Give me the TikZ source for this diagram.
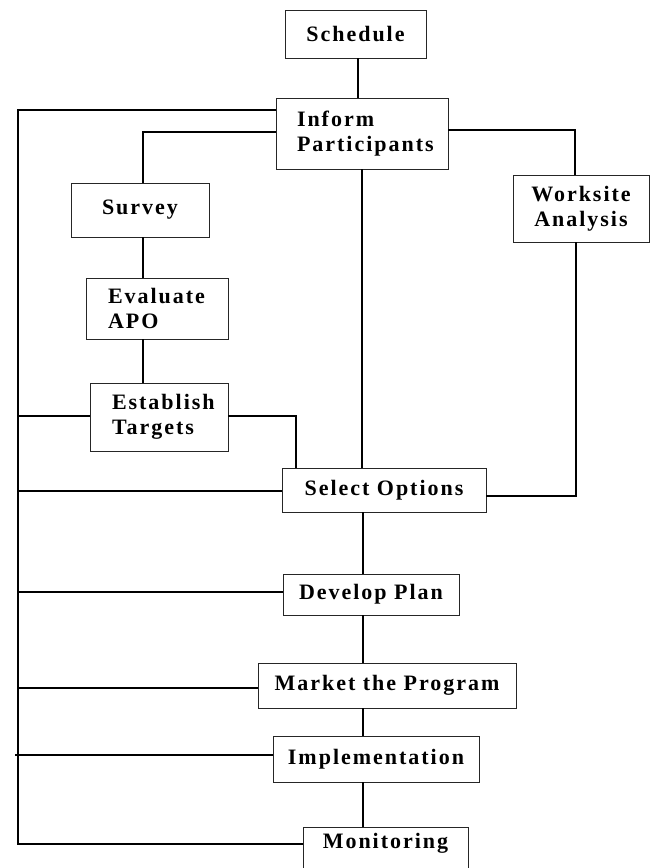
\documentclass[tikz,border=0pt]{standalone}
\usepackage{fontspec}
\setmainfont[LetterSpace=9]{Liberation Serif}
\usetikzlibrary{calc}
\begin{document}
\begin{tikzpicture}[x=1pt,y=-1pt,
  box/.style={draw=black!85,line width=0.8pt,inner sep=0pt,
    font=\fontsize{22}{25}\selectfont\bfseries},
  lbox/.style={box,align=left},
  cbox/.style={box,align=center},
  conn/.style={line width=1.5pt,black}]
\useasboundingbox (0,0) rectangle (655,868);
% nodes
\node[cbox,minimum width=141pt,minimum height=48pt] (sched) at (355.5,34) {Schedule};
\node[lbox,minimum width=172pt,minimum height=71pt,text width=130pt] (inform) at (362,133.5) {Inform\\Participants};
\node[cbox,minimum width=138pt,minimum height=54pt] (survey) at (140,210) {Survey};
\node[cbox,minimum width=136pt,minimum height=67pt] (worksite) at (581,208.5) {Worksite\\Analysis};
\node[lbox,minimum width=142pt,minimum height=61pt,text width=98pt] (evaluate) at (157,308.5) {Evaluate\\APO};
\node[lbox,minimum width=138pt,minimum height=68pt,text width=94pt] (establish) at (159,417) {Establish\\Targets};
\node[cbox,minimum width=204pt,minimum height=44pt] (select) at (384,490) {Select Options};
\node[cbox,minimum width=176pt,minimum height=41pt] (develop) at (371,594.5) {Develop Plan};
\node[cbox,minimum width=258pt,minimum height=45pt] (market) at (387,685.5) {Market the Program};
\node[cbox,minimum width=206pt,minimum height=46pt] (impl) at (376,759) {Implementation};
\node[box,minimum width=165pt,minimum height=60pt] (monitor) at (385.5,857) {};
\node[font=\fontsize{22}{25}\selectfont\bfseries,inner sep=0pt] (montext) at (385.5,843) {Monitoring};
% helper coordinates
\coordinate (ltop) at (18,110);
\coordinate (lbot) at (18,844);
\coordinate (sv) at (143,132);
\coordinate (wk) at (575,130);
\coordinate (et) at (296,416);
\coordinate (wd) at (576,496);
\coordinate (cx) at (362,0);
\coordinate (cy) at (363,0);
\coordinate (sx) at (358,0);
\coordinate (sy) at (0,491);
\coordinate (dy) at (0,592);
\coordinate (my) at (0,688);
\coordinate (iy) at (0,755);
% connectors
\draw[conn] (sx |- sched.south) -- (sx |- inform.north);
\draw[conn] (inform.west |- ltop) -- (ltop) -- (lbot) -- (monitor.west |- lbot);
\draw[conn] (inform.west |- sv) -- (sv) -- (sv |- survey.north);
\draw[conn] (inform.east |- wk) -- (wk) -- (wk |- worksite.north);
\draw[conn] (sv |- survey.south) -- (sv |- evaluate.north);
\draw[conn] (sv |- evaluate.south) -- (sv |- establish.north);
\draw[conn] (establish.west |- et) -- (ltop |- et);
\draw[conn] (establish.east |- et) -- (et) -- (et |- select.north);
\draw[conn] (cx |- inform.south) -- (cx |- select.north);
\draw[conn] (wd |- worksite.south) -- (wd) -- (select.east |- wd);
\draw[conn] (select.west |- sy) -- (ltop |- sy);
\draw[conn] (cy |- select.south) -- (cy |- develop.north);
\draw[conn] (develop.west |- dy) -- (ltop |- dy);
\draw[conn] (cy |- develop.south) -- (cy |- market.north);
\draw[conn] (market.west |- my) -- (ltop |- my);
\draw[conn] (cy |- market.south) -- (cy |- impl.north);
\draw[conn] (impl.west |- iy) -- ([xshift=-3pt]ltop |- iy);
\draw[conn] (cy |- impl.south) -- (cy |- monitor.north);
\end{tikzpicture}
\end{document}
